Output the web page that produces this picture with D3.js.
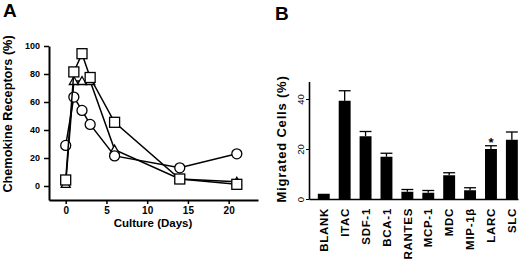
<!DOCTYPE html>
<html><head><meta charset="utf-8">
<script src="https://cdn.jsdelivr.net/npm/d3@7"></script>
<style>
html,body{margin:0;padding:0;background:#fff;}
svg{display:block;font-family:"Liberation Sans",Arial,Helvetica,sans-serif;}
</style></head>
<body>
<svg id="c" width="520" height="261"></svg>
<script>
// ---- Panel A data ----
const days = [0, 1, 2, 3, 6, 14, 21];
const circleSeries = [29, 63.5, 54, 44, 21.5, 13, 23];
const triangleSeries = [1.5, 75, 75, 75, 26, 5, 3];
const squareSeries = [4.3, 81.5, 94.5, 77.5, 45.5, 5, 1.2];
const xTicksA = [0, 5, 10, 15, 20];
const yTicksA = [0, 20, 40, 60, 80, 100];

// ---- Panel B data ----
const chemokines = ["BLANK", "ITAC", "SDF-1", "BCA-1", "RANTES", "MCP-1", "MDC", "MIP-1β", "LARC", "SLC"];
const migrated = [2.1, 39.3, 25.1, 16.9, 2.9, 2.5, 9.5, 3.5, 20, 23.7];
const migratedErr = [0, 43.3, 27, 18.3, 3.8, 3.4, 10.5, 4.5, 21.3, 26.8];
const significance = ["", "", "", "", "", "", "", "", "*", ""];
const yTicksB = [0, 20, 40];

const svg = d3.select("#c");
const FONT = '"Liberation Sans",Arial,Helvetica,sans-serif';

// ================= Panel A =================
const xA = d3.scaleLinear().domain([-2.05, 23.6]).range([49, 258]);
const yA = d3.scaleLinear().domain([-10, 100]).range([200, 46]);

const gA = svg.append("g");
const axXA = gA.append("g").attr("transform", "translate(0,200)")
  .call(d3.axisBottom(xA).tickValues(xTicksA).tickSize(4).tickSizeOuter(0));
const axYA = gA.append("g").attr("transform", "translate(49,0)")
  .call(d3.axisLeft(yA).tickValues(yTicksA).tickSize(5).tickSizeOuter(0));
[axXA, axYA].forEach(a => {
  a.select(".domain").attr("stroke-width", 2);
  a.selectAll(".tick line").attr("stroke-width", 1.5);
  a.selectAll("text").attr("font-family", FONT).attr("font-weight", "bold").attr("fill", "#000");
});
axXA.selectAll("text").attr("font-size", 10).attr("y", 7);
axYA.selectAll("text").attr("font-size", 9).attr("x", -9);

gA.append("text").attr("x", 153).attr("y", 227).attr("text-anchor", "middle")
  .attr("font-size", 11.5).attr("font-weight", "bold").text("Culture (Days)");
gA.append("text").attr("transform", "translate(12,114) rotate(-90)").attr("text-anchor", "middle")
  .attr("font-size", 12.7).attr("font-weight", "bold").text("Chemokine Receptors (%)");
gA.append("text").attr("x", 3).attr("y", 17).attr("font-size", 19).attr("font-weight", "bold").text("A");

const line = d3.line().x((d, i) => xA(days[i])).y(d => yA(d));
function drawSeries(vals, shape) {
  gA.append("path").datum(vals).attr("d", line).attr("fill", "none")
    .attr("stroke", "#000").attr("stroke-width", 1.5);
  const pts = gA.append("g").selectAll("g").data(vals).join("g")
    .attr("transform", (d, i) => `translate(${xA(days[i])},${yA(d)})`);
  if (shape === "circle") {
    pts.append("circle").attr("r", 5).attr("fill", "#fff").attr("stroke", "#000").attr("stroke-width", 1.3);
  } else if (shape === "square") {
    pts.append("rect").attr("x", -5).attr("y", -5).attr("width", 10).attr("height", 10)
      .attr("fill", "#fff").attr("stroke", "#000").attr("stroke-width", 1.3);
  } else {
    pts.append("path").attr("d", "M0,-4.5L4.5,3.5L-4.5,3.5Z")
      .attr("fill", "#fff").attr("stroke", "#000").attr("stroke-width", 1.3);
  }
}
drawSeries(triangleSeries, "triangle");
drawSeries(circleSeries, "circle");
drawSeries(squareSeries, "square");

// ================= Panel B =================
const xB = d3.scaleBand().domain(chemokines).range([309, 518])
  .paddingInner(0.43).paddingOuter(0.215).align(0.98);
const yB = d3.scaleLinear().domain([0, 47]).range([199, 81.5]);
const gB = svg.append("g");

gB.selectAll("rect.bar").data(chemokines).join("rect").attr("class", "bar")
  .attr("x", d => xB(d)).attr("width", xB.bandwidth())
  .attr("y", (d, i) => yB(migrated[i])).attr("height", (d, i) => yB(0) - yB(migrated[i]))
  .attr("fill", "#000");

const eb = gB.append("g").selectAll("g").data(chemokines).join("g")
  .filter((d, i) => migratedErr[i] > migrated[i]);
eb.append("line")
  .attr("x1", d => xB(d) + xB.bandwidth() / 2).attr("x2", d => xB(d) + xB.bandwidth() / 2)
  .attr("y1", d => yB(migrated[chemokines.indexOf(d)])).attr("y2", d => yB(migratedErr[chemokines.indexOf(d)]))
  .attr("stroke", "#000").attr("stroke-width", 1.3);
eb.append("line")
  .attr("x1", d => xB(d)).attr("x2", d => xB(d) + xB.bandwidth())
  .attr("y1", d => yB(migratedErr[chemokines.indexOf(d)])).attr("y2", d => yB(migratedErr[chemokines.indexOf(d)]))
  .attr("stroke", "#000").attr("stroke-width", 1.3);

gB.selectAll("text.sig").data(chemokines).join("text").attr("class", "sig")
  .attr("x", d => xB(d) + xB.bandwidth() / 2)
  .attr("y", (d, i) => yB(Math.max(migrated[i], migratedErr[i])) + 1)
  .attr("text-anchor", "middle").attr("font-size", 13).attr("font-weight", "bold")
  .text((d, i) => significance[i]);

const axYB = gB.append("g").attr("transform", "translate(309,0)")
  .call(d3.axisLeft(yB).tickValues(yTicksB).tickSize(3).tickSizeOuter(0));
axYB.select(".domain").attr("stroke-width", 1.6);
axYB.selectAll("text").attr("font-family", FONT).attr("font-size", 9.5)
  .attr("fill", "#000").attr("x", null).attr("dy", null)
  .attr("text-anchor", "middle")
  .attr("transform", "translate(-5,0) rotate(-90)");

const axXB = gB.append("g").attr("transform", "translate(0,199)")
  .call(d3.axisBottom(xB).tickSize(0).tickSizeOuter(0));
axXB.select(".domain").attr("stroke-width", 1.6);
axXB.selectAll("text").attr("font-family", FONT).attr("font-weight", "bold").attr("font-size", 11.5)
  .attr("letter-spacing", 0.7).attr("fill", "#000")
  .attr("text-anchor", "end").attr("x", -9).attr("y", 0).attr("dy", "0.36em")
  .attr("transform", "rotate(-90)");

gB.append("text").attr("transform", "translate(286,139) rotate(-90)").attr("text-anchor", "middle")
  .attr("font-size", 13).attr("font-weight", "bold").attr("letter-spacing", 0.8).text("Migrated Cells (%)");
gB.append("text").attr("x", 275).attr("y", 19.5).attr("font-size", 19).attr("font-weight", "bold").text("B");
</script>
</body></html>
